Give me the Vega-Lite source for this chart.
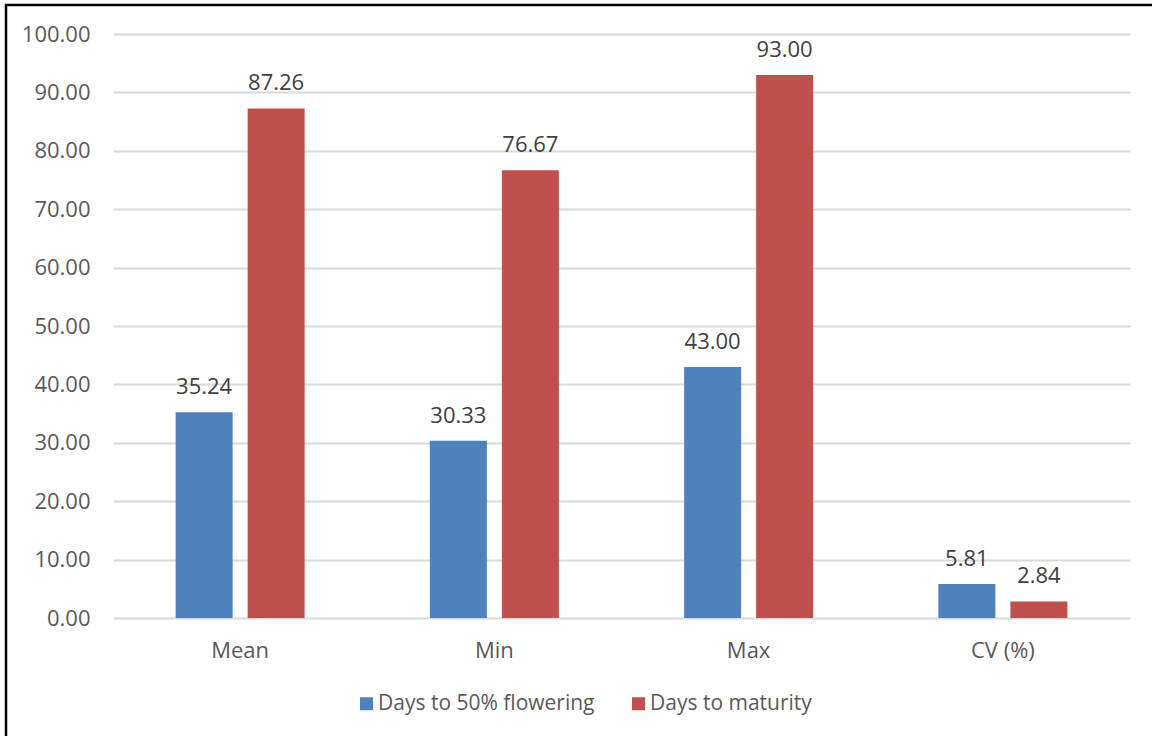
{
  "$schema": "https://vega.github.io/schema/vega-lite/v6.json",
  "autosize": "none",
  "width": 1149,
  "height": 734,
  "padding": {"left": 6, "top": 5, "right": -3, "bottom": -3},
  "background": "white",
  "config": {
    "font": "Open Sans",
    "view": {"stroke": "black", "strokeWidth": 2.5},
    "axis": {"labelFont": "Open Sans", "labelFontSize": 22, "labelColor": "#595959"},
    "legend": {"labelFont": "Open Sans", "labelFontSize": 21, "labelColor": "#595959", "labelLimit": 400}
  },
  "data": {
    "values": [
      {"stat": "Mean", "trait": "Days to 50% flowering", "value": 35.24},
      {"stat": "Mean", "trait": "Days to maturity", "value": 87.26},
      {"stat": "Min", "trait": "Days to 50% flowering", "value": 30.33},
      {"stat": "Min", "trait": "Days to maturity", "value": 76.67},
      {"stat": "Max", "trait": "Days to 50% flowering", "value": 43.0},
      {"stat": "Max", "trait": "Days to maturity", "value": 93.0},
      {"stat": "CV (%)", "trait": "Days to 50% flowering", "value": 5.81},
      {"stat": "CV (%)", "trait": "Days to maturity", "value": 2.84}
    ]
  },
  "encoding": {
    "x": {
      "field": "stat",
      "type": "nominal",
      "sort": ["Mean", "Min", "Max", "CV (%)"],
      "scale": {"range": [107, 1124], "paddingInner": 0.4926, "paddingOuter": 0.2463},
      "axis": {
        "title": null,
        "domain": false,
        "ticks": false,
        "tickSize": 0,
        "labelPadding": 0,
        "labelBaseline": "alphabetic",
        "labelAngle": 0,
        "offset": -82,
        "grid": false
      }
    },
    "xOffset": {
      "field": "trait",
      "type": "nominal",
      "scale": {"paddingInner": 0.2083, "paddingOuter": 0}
    },
    "y": {
      "field": "value",
      "type": "quantitative",
      "scale": {"domain": [0, 100], "range": [613, 29], "nice": false, "zero": true},
      "axis": {
        "title": null,
        "values": [0, 10, 20, 30, 40, 50, 60, 70, 80, 90, 100],
        "format": ".2f",
        "domain": false,
        "ticks": false,
        "tickSize": 0,
        "labelPadding": 0,
        "offset": -84,
        "grid": true,
        "gridColor": "#d9d9d9",
        "gridWidth": 2
      }
    }
  },
  "layer": [
    {
      "mark": {"type": "bar"},
      "encoding": {
        "color": {
          "field": "trait",
          "type": "nominal",
          "scale": {"domain": ["Days to 50% flowering", "Days to maturity"], "range": ["#4f81bd", "#c0504d"]},
          "legend": {
            "title": null,
            "orient": "none",
            "direction": "horizontal",
            "legendX": 350,
            "legendY": 688,
            "symbolType": "square",
            "symbolSize": 169,
            "symbolStrokeWidth": 0,
            "labelOffset": 1,
            "columnPadding": 33,
            "padding": 0
          }
        }
      }
    },
    {
      "mark": {"type": "text", "baseline": "alphabetic", "dy": -18, "fontSize": 22, "font": "Open Sans", "color": "#404040"},
      "encoding": {
        "text": {"field": "value", "type": "quantitative", "format": ".2f"}
      }
    }
  ]
}
